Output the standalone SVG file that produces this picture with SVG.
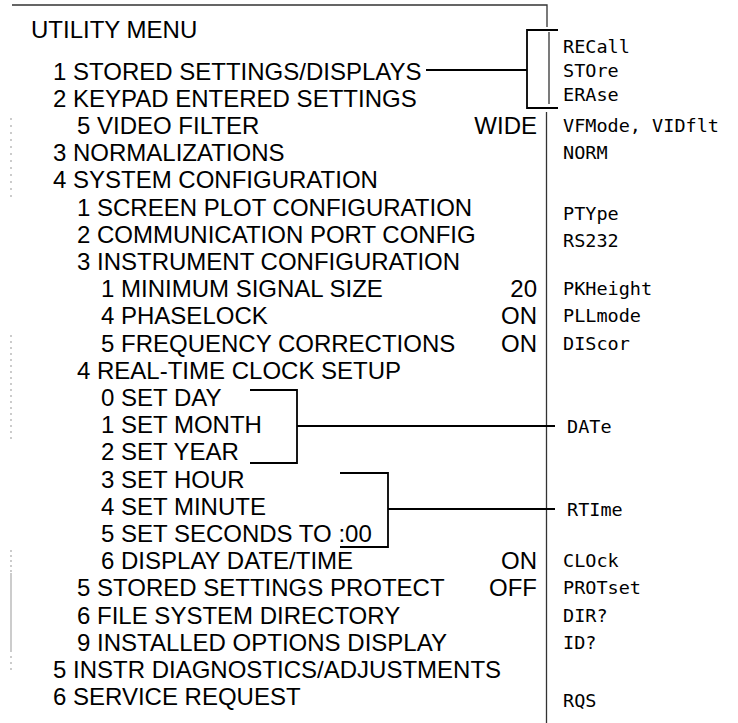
<svg xmlns="http://www.w3.org/2000/svg" width="738" height="723" viewBox="0 0 738 723">
<style>
  .t{font-family:"Liberation Sans",Arial,Helvetica,sans-serif;font-size:24px;fill:#000}
  .v{font-family:"Liberation Sans",Arial,Helvetica,sans-serif;font-size:24px;fill:#000;text-anchor:end}
  .m{font-family:"DejaVu Sans Mono","Liberation Mono",monospace;font-size:18.5px;fill:#000}
  .br{fill:none;stroke:#000;stroke-width:1.8}
  .fr{fill:none;stroke:#333;stroke-width:1.3}
  .art{fill:none;stroke:#aaa;stroke-width:1.2}
</style>
<rect width="738" height="723" fill="#fff"/>
<g id="connectors">
  <path class="fr" d="M12,5 H547 V27"/>
  <path class="fr" d="M549,32 V104" stroke="#888"/>
  <path class="fr" d="M546.5,112 V723"/>
  <path class="br" d="M426,70 H527"/>
  <path class="br" d="M558,30 H527 V108 H558"/>
  <path class="br" d="M250,390 H297 V463 H250"/>
  <path class="br" d="M297,426 H555"/>
  <path class="br" d="M340,473 H388 V547 H340"/>
  <path class="br" d="M388,509 H555"/>
</g>
<g id="artifacts">
  <path class="art" d="M11,118 V200" stroke-dasharray="2 5"/>
  <path class="art" d="M11,335 V440" stroke-dasharray="2 4"/>
  <path class="art" d="M11,550 V573" stroke-dasharray="2 3"/>
  <path class="art" d="M11,573 V650"/>
  <path class="art" d="M11,650 V672" stroke-dasharray="2 4"/>
</g>
<g id="title"><text class="t" x="31" y="38">UTILITY MENU</text></g>
<g id="n0"><text class="t" x="53" y="79.6">1 STORED SETTINGS/DISPLAYS</text><text class="m" x="563" y="52.5">RECall</text><text class="m" x="563" y="76.5">STOre</text><text class="m" x="563" y="100.5">ERAse</text></g>
<g id="n1"><text class="t" x="53" y="106.8">2 KEYPAD ENTERED SETTINGS</text></g>
<g id="n2"><text class="t" x="77" y="134">5 VIDEO FILTER</text><text class="v" x="537" y="134">WIDE</text><text class="m" x="563" y="132">VFMode, VIDflt</text></g>
<g id="n3"><text class="t" x="53" y="161.2">3 NORMALIZATIONS</text><text class="m" x="563" y="159">NORM</text></g>
<g id="n4"><text class="t" x="53" y="188.4">4 SYSTEM CONFIGURATION</text></g>
<g id="n5"><text class="t" x="77" y="215.6">1 SCREEN PLOT CONFIGURATION</text><text class="m" x="563" y="220">PTYpe</text></g>
<g id="n6"><text class="t" x="77" y="242.8">2 COMMUNICATION PORT CONFIG</text><text class="m" x="563" y="247">RS232</text></g>
<g id="n7"><text class="t" x="77" y="270">3 INSTRUMENT CONFIGURATION</text></g>
<g id="n8"><text class="t" x="101" y="297.2">1 MINIMUM SIGNAL SIZE</text><text class="v" x="537" y="297.2">20</text><text class="m" x="563" y="295">PKHeight</text></g>
<g id="n9"><text class="t" x="101" y="324.4">4 PHASELOCK</text><text class="v" x="537" y="324.4">ON</text><text class="m" x="563" y="322">PLLmode</text></g>
<g id="n10"><text class="t" x="101" y="351.6">5 FREQUENCY CORRECTIONS</text><text class="v" x="537" y="351.6">ON</text><text class="m" x="563" y="349.5">DIScor</text></g>
<g id="n11"><text class="t" x="77" y="378.8">4 REAL-TIME CLOCK SETUP</text></g>
<g id="n12"><text class="t" x="101" y="406">0 SET DAY</text></g>
<g id="n13"><text class="t" x="101" y="433.2">1 SET MONTH</text><text class="m" x="567" y="432.5">DATe</text></g>
<g id="n14"><text class="t" x="101" y="460.4">2 SET YEAR</text></g>
<g id="n15"><text class="t" x="101" y="487.6">3 SET HOUR</text></g>
<g id="n16"><text class="t" x="101" y="514.8">4 SET MINUTE</text><text class="m" x="567" y="515.5">RTIme</text></g>
<g id="n17"><text class="t" x="101" y="542">5 SET SECONDS TO :00</text></g>
<g id="n18"><text class="t" x="101" y="569.2">6 DISPLAY DATE/TIME</text><text class="v" x="537" y="569.2">ON</text><text class="m" x="563" y="567">CLOck</text></g>
<g id="n19"><text class="t" x="77" y="596.4">5 STORED SETTINGS PROTECT</text><text class="v" x="537" y="596.4">OFF</text><text class="m" x="563" y="594">PROTset</text></g>
<g id="n20"><text class="t" x="77" y="623.6">6 FILE SYSTEM DIRECTORY</text><text class="m" x="563" y="621.5">DIR?</text></g>
<g id="n21"><text class="t" x="77" y="650.8">9 INSTALLED OPTIONS DISPLAY</text><text class="m" x="563" y="649">ID?</text></g>
<g id="n22"><text class="t" x="53" y="678">5 INSTR DIAGNOSTICS/ADJUSTMENTS</text></g>
<g id="n23"><text class="t" x="53" y="705.2">6 SERVICE REQUEST</text><text class="m" x="563" y="707">RQS</text></g>
</svg>
